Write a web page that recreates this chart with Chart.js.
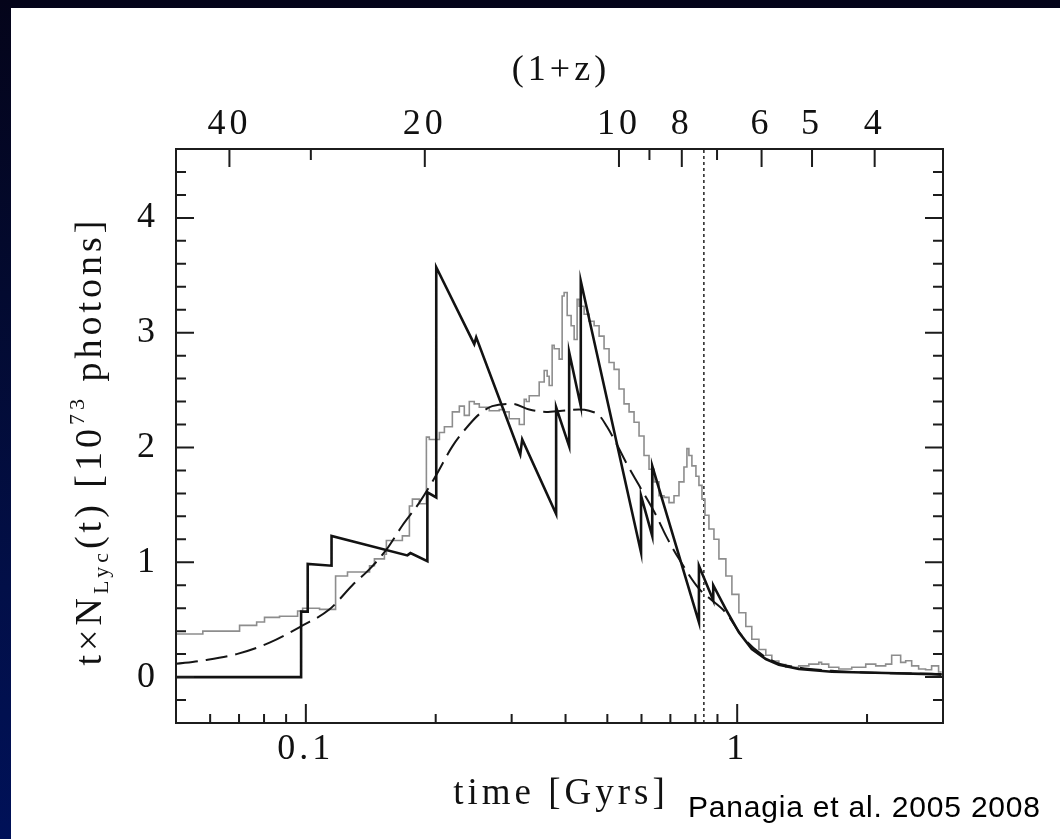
<!DOCTYPE html>
<html>
<head>
<meta charset="utf-8">
<script src="https://cdn.jsdelivr.net/npm/chart.js@4.4.1/dist/chart.umd.min.js"></script>
<style>
  html, body { margin: 0; padding: 0; width: 1060px; height: 839px; overflow: hidden; }
  body { position: relative; background: linear-gradient(180deg, #04041a 0%, #030a30 35%, #020f48 70%, #001158 100%); }
  #panel { position: absolute; left: 11px; top: 8px; width: 1049px; height: 831px; background: #ffffff; }
  #wrap { position: absolute; left: 0; top: 0; width: 1060px; height: 839px; }
</style>
</head>
<body>
<div id="panel"></div>
<div id="wrap"><canvas id="c" width="1060" height="839"></canvas></div>
<script>
// Axis ranges
const T_MIN = 0.05, T_MAX = 3;      // time [Gyr], log axis
const N_MIN = -0.4, N_MAX = 4.6;    // t x N_Lyc [1e73 photons]

// Bottom (time) axis ticks
const timeTickValues = [0.1, 1];
const timeTickLabels = ['0.1', '1'];
const timeMinorTicks = [0.06, 0.07, 0.08, 0.09, 0.2, 0.3, 0.4, 0.5, 0.6, 0.7, 0.8, 0.9, 2];

// Top (1+z) axis: cosmic time of each redshift tick
const redshiftTickTimes = [0.0665, 0.1887, 0.532, 0.744, 1.139, 1.491, 2.083];
const redshiftTickLabels = ['40', '20', '10', '8', '6', '5', '4'];
const redshiftMinorTimes = [0.1027, 0.626, 0.898];   // 1+z = 30, 9, 7

// Left axis ticks
const photonTickValues = [0, 1, 2, 3, 4];
const photonTickLabels = ['0', '1', '2', '3', '4'];
const photonMinorStep = 0.2;

// Bursty star-formation history (thick black)
const solidT = [0.05, 0.0975, 0.0975, 0.101, 0.101, 0.1147, 0.1147, 0.1719, 0.1748, 0.1913,
                0.1913, 0.2006, 0.2006, 0.2457, 0.2483, 0.3141, 0.3174, 0.3804, 0.3804, 0.4078,
                0.4078, 0.4339, 0.4339, 0.5985, 0.5985, 0.6354, 0.6354, 0.8153, 0.8153, 0.88,
                0.88, 0.9414, 1.009, 1.081, 1.165, 1.249, 1.389, 1.656, 2.209, 2.823, 2.978];
const solidN = [0, 0, 0.57, 0.57, 0.985, 0.97, 1.23, 1.06, 1.08, 1.01,
                1.61, 1.565, 3.57, 2.90, 2.96, 1.94, 2.07, 1.42, 2.35, 2.01,
                2.83, 2.36, 3.45, 1.086, 1.58, 1.23, 1.84, 0.476, 0.97, 0.67,
                0.80, 0.59, 0.39, 0.244, 0.157, 0.107, 0.07, 0.046, 0.035, 0.026, 0.02];

// Smooth model (dashed)
const dashT = [0.05, 0.0577, 0.0691, 0.0824, 0.0983, 0.1135, 0.1282, 0.1405, 0.1537, 0.1674,
               0.1833, 0.2006, 0.2186, 0.2393, 0.2524, 0.2705, 0.3010, 0.3295, 0.3607, 0.3928,
               0.4301, 0.4536, 0.4785, 0.4992, 0.5238, 0.5525, 0.5922, 0.6484, 0.6839, 0.7329,
               0.8153, 0.8600, 0.9414, 1.025, 1.123, 1.229, 1.389, 1.656, 1.986, 2.978];
const dashN = [0.115, 0.145, 0.20, 0.30, 0.45, 0.59, 0.80, 0.94, 1.11, 1.32,
               1.52, 1.76, 2.01, 2.20, 2.29, 2.36, 2.38, 2.33, 2.31, 2.32,
               2.33, 2.32, 2.28, 2.18, 2.04, 1.87, 1.67, 1.41, 1.23, 1.03,
               0.77, 0.69, 0.56, 0.36, 0.215, 0.128, 0.084, 0.055, 0.04, 0.026];

// Stochastic model (thin gray, stepped)
const grayT = [0.05, 0.0577, 0.0702, 0.0769, 0.0802, 0.0869, 0.0957, 0.0983, 0.1076, 0.1172,
               0.1249, 0.1405, 0.1442, 0.1521, 0.1537, 0.1674, 0.1738, 0.1766, 0.1833, 0.1903,
               0.1933, 0.2040, 0.2095, 0.2186, 0.2269, 0.2330, 0.2393, 0.2457, 0.2524, 0.2662,
               0.2808, 0.2884, 0.2961, 0.3125, 0.3208, 0.3243, 0.3295, 0.3475, 0.3569, 0.3626,
               0.3665, 0.3724, 0.3764, 0.3866, 0.3928, 0.3970, 0.4035, 0.4121, 0.4188, 0.4255,
               0.4301, 0.4417, 0.4536, 0.4659, 0.4785, 0.4913, 0.5046, 0.5183, 0.5322, 0.5466,
               0.5615, 0.5766, 0.5922, 0.6081, 0.6246, 0.6415, 0.6588, 0.6766, 0.6949, 0.7137,
               0.7329, 0.7526, 0.7646, 0.7727, 0.7852, 0.8023, 0.8153, 0.8285, 0.8419, 0.8600,
               0.8833, 0.9071, 0.9414, 0.9721, 1.009, 1.047, 1.081, 1.123, 1.165, 1.203,
               1.249, 1.296, 1.389, 1.466, 1.546, 1.569, 1.630, 1.720, 1.843, 1.986,
               2.095, 2.209, 2.281, 2.393, 2.458, 2.538, 2.634, 2.734, 2.823, 2.930, 2.978];
const grayN = [0.345, 0.375, 0.40, 0.45, 0.48, 0.52, 0.53, 0.575, 0.60, 0.59,
               0.88, 0.915, 0.97, 1.03, 1.07, 1.19, 1.23, 1.49, 1.55, 1.51,
               2.09, 2.07, 2.13, 2.18, 2.31, 2.36, 2.28, 2.40, 2.38, 2.35,
               2.32, 2.33, 2.31, 2.25, 2.20, 2.42, 2.40, 2.45, 2.57, 2.67,
               2.62, 2.54, 2.89, 2.86, 2.77, 3.32, 3.35, 3.15, 3.06, 2.94,
               3.29, 3.23, 3.16, 3.10, 3.06, 2.97, 2.86, 2.74, 2.68, 2.51,
               2.38, 2.31, 2.22, 2.10, 1.93, 1.81, 1.70, 1.58, 1.565, 1.52,
               1.58, 1.70, 1.83, 1.99, 1.93, 1.84, 1.75, 1.67, 1.55, 1.41,
               1.29, 1.20, 1.03, 0.88, 0.72, 0.56, 0.44, 0.33, 0.24, 0.19,
               0.14, 0.11, 0.085, 0.098, 0.113, 0.128, 0.113, 0.085, 0.07, 0.085,
               0.113, 0.098, 0.113, 0.19, 0.128, 0.142, 0.098, 0.07, 0.064, 0.098, 0.044];

// Vertical reference time (dotted line)
const markerT = 0.837;

const SERIF = '"Liberation Serif", "Times New Roman", serif';

function pairs(ts, ns) {
  return ts.map((t, i) => ({ x: t, y: ns[i] }));
}

// Draws a run of text pieces with different sizes / vertical offsets, centred on cx
function drawRich(ctx, parts, cx, cy) {
  let total = 0;
  parts.forEach(p => {
    ctx.font = p.size + 'px ' + SERIF;
    p.w = ctx.measureText(p.text).width;
    total += p.w;
  });
  let xx = cx - total / 2;
  parts.forEach(p => {
    ctx.font = p.size + 'px ' + SERIF;
    ctx.fillText(p.text, xx, cy + (p.dy || 0));
    xx += p.w;
  });
}

// Box frame with inward ticks, axis titles and credit line
const framePlugin = {
  id: 'frameAndTitles',
  beforeDraw(chart) {
    chart.ctx.letterSpacing = '4px';
  },
  afterDraw(chart) {
    const { ctx, chartArea: a, scales } = chart;
    const x = scales.x, x2 = scales.x2, y = scales.y;
    ctx.save();
    ctx.strokeStyle = '#1c1c1c';
    ctx.lineWidth = 2;
    ctx.strokeRect(a.left, a.top, a.right - a.left, a.bottom - a.top);

    ctx.beginPath();
    const nSteps = Math.round((N_MAX - N_MIN) / photonMinorStep);
    for (let k = 1; k < nSteps; k++) {
      const v = N_MIN + k * photonMinorStep;
      const major = Math.abs(v - Math.round(v)) < 1e-6;
      const len = major ? 18 : 10;
      const py = y.getPixelForValue(v);
      ctx.moveTo(a.left, py); ctx.lineTo(a.left + len, py);
      ctx.moveTo(a.right, py); ctx.lineTo(a.right - len, py);
    }
    timeTickValues.forEach(t => {
      const px = x.getPixelForValue(t);
      ctx.moveTo(px, a.bottom); ctx.lineTo(px, a.bottom - 19);
    });
    timeMinorTicks.forEach(t => {
      const px = x.getPixelForValue(t);
      ctx.moveTo(px, a.bottom); ctx.lineTo(px, a.bottom - 9);
    });
    redshiftTickTimes.forEach(t => {
      const px = x2.getPixelForValue(t);
      ctx.moveTo(px, a.top); ctx.lineTo(px, a.top + 18);
    });
    redshiftMinorTimes.forEach(t => {
      const px = x2.getPixelForValue(t);
      ctx.moveTo(px, a.top); ctx.lineTo(px, a.top + 11);
    });
    ctx.stroke();

    // Axis titles
    ctx.fillStyle = '#111';
    ctx.letterSpacing = '4px';
    ctx.textAlign = 'left';
    ctx.textBaseline = 'alphabetic';
    drawRich(ctx, [{ text: 'time [Gyrs]', size: 37 }], 561, 804);
    drawRich(ctx, [{ text: '(1+z)', size: 36 }], 561, 80);

    ctx.save();
    ctx.translate(101, 441);
    ctx.rotate(-Math.PI / 2);
    drawRich(ctx, [
      { text: 't×N', size: 38 },
      { text: 'Lyc', size: 22, dy: 7 },
      { text: '(t) [10', size: 38 },
      { text: '73', size: 22, dy: -17 },
      { text: ' photons]', size: 38 }
    ], 0, 0);
    ctx.restore();

    // Credit line
    ctx.letterSpacing = '0.8px';
    ctx.font = '30px "Liberation Sans", Arial, sans-serif';
    ctx.fillStyle = '#000';
    ctx.textAlign = 'left';
    ctx.fillText('Panagia et al. 2005 2008', 688, 817);
    ctx.restore();
  }
};

const tickFont = { family: SERIF, size: 36 };

new Chart(document.getElementById('c'), {
  type: 'line',
  data: {
    datasets: [
      { label: 'bursty', data: pairs(solidT, solidN), borderColor: '#121212', borderWidth: 2.6,
        pointRadius: 0, tension: 0, fill: false, borderJoinStyle: 'miter' },
      { label: 'smooth', data: pairs(dashT, dashN), borderColor: '#151515', borderWidth: 2,
        borderDash: [22, 8], pointRadius: 0, cubicInterpolationMode: 'monotone', fill: false },
      { label: 'stochastic', data: pairs(grayT, grayN), borderColor: '#8d8d8d', borderWidth: 1.6,
        pointRadius: 0, stepped: 'after', fill: false },
      { label: 'marker', data: [{ x: markerT, y: N_MIN }, { x: markerT, y: N_MAX }],
        borderColor: '#222', borderWidth: 1.5, borderDash: [3, 3], pointRadius: 0, fill: false }
    ]
  },
  options: {
    responsive: false,
    animation: false,
    devicePixelRatio: 1,
    layout: { padding: { left: 0, right: 117, top: 0, bottom: 0 } },
    plugins: { legend: { display: false }, tooltip: { enabled: false } },
    scales: {
      x: {
        type: 'logarithmic', position: 'bottom', min: T_MIN, max: T_MAX,
        grid: { display: false, drawTicks: false }, border: { display: false },
        afterBuildTicks: s => { s.ticks = timeTickValues.map(v => ({ value: v })); },
        afterFit: s => { s.height = 116; },
        ticks: { autoSkip: false, maxRotation: 0, minRotation: 0, padding: 5, font: tickFont, color: '#111',
                 callback: (v, i) => timeTickLabels[i] }
      },
      x2: {
        type: 'logarithmic', axis: 'x', position: 'top', min: T_MIN, max: T_MAX,
        grid: { display: false, drawTicks: false }, border: { display: false },
        afterBuildTicks: s => { s.ticks = redshiftTickTimes.map(v => ({ value: v })); },
        afterFit: s => { s.height = 149; },
        ticks: { autoSkip: false, maxRotation: 0, minRotation: 0, padding: 3, font: tickFont, color: '#111',
                 callback: (v, i) => redshiftTickLabels[i] }
      },
      y: {
        type: 'linear', position: 'left', min: N_MIN, max: N_MAX,
        grid: { display: false, drawTicks: false }, border: { display: false },
        afterBuildTicks: s => { s.ticks = photonTickValues.map(v => ({ value: v })); },
        afterFit: s => { s.width = 176; },
        ticks: { autoSkip: false, padding: 17, font: tickFont, color: '#111',
                 callback: (v, i) => photonTickLabels[i] }
      }
    }
  },
  plugins: [framePlugin]
});
</script>
</body>
</html>
